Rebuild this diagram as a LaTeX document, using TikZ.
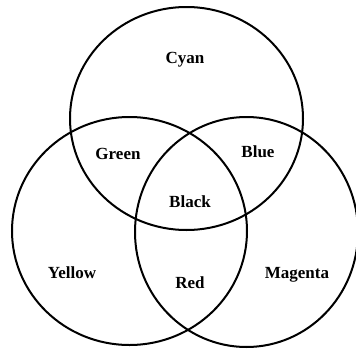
\documentclass[tikz,border=0pt]{standalone}
\usepackage{fontspec}
\setmainfont{Liberation Serif}
\usepackage{tikz}
\usetikzlibrary{positioning}

\begin{document}
\begin{tikzpicture}[farbe/.style={font=\fontsize{17}{19}\selectfont\bfseries, inner sep=1pt},
			kreis/.style={line width=2pt}, x=1pt, y=-1pt]
			%Bildbereich
			\useasboundingbox (0,0) rectangle (356,348);
			% Kreise zeichnen
			\draw[kreis] (186.5,118.5) ellipse [x radius=116.5, y radius=111.5];
			\draw[kreis] (129.5,231) ellipse [x radius=117.5, y radius=114];
			\draw[kreis] (246.5,232) ellipse [x radius=111.5, y radius=115];
			%Beschriftung
			\node[farbe] (cyan) at (185,60) {Cyan};
			\node[farbe] (green) at (118,154) {Green};
			\node[farbe] (blue) at (258,152) {Blue};
			\node[farbe] (black) at (190,202) {Black};
			\node[farbe] (yellow) at (72,273) {Yellow};
			\node[farbe] (red) at (190,283) {Red};
			\node[farbe] (magenta) at (297,275) {Magenta};
		\end{tikzpicture}
\end{document}
